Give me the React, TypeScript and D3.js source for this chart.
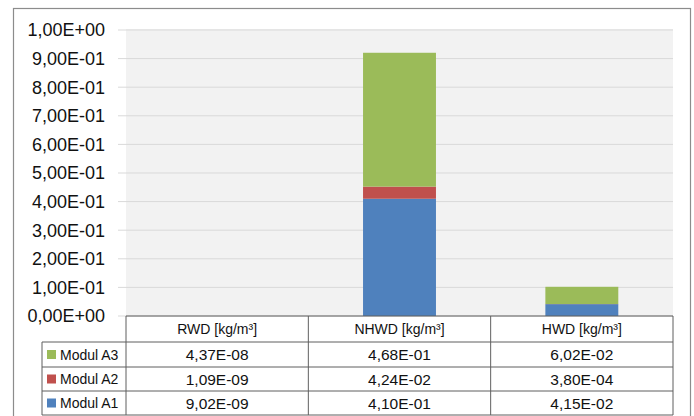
import React from "react";
import * as d3 from "d3";

const categories = ["RWD [kg/m³]", "NHWD [kg/m³]", "HWD [kg/m³]"];
const seriesNames = ["Modul A1", "Modul A2", "Modul A3"];
const modulA1 = [9.02e-9, 4.10e-1, 4.15e-2];
const modulA2 = [1.09e-9, 4.24e-2, 3.80e-4];
const modulA3 = [4.37e-8, 4.68e-1, 6.02e-2];
const yTicks = [0, 0.1, 0.2, 0.3, 0.4, 0.5, 0.6, 0.7, 0.8, 0.9, 1.0];
const colors = ["#4f81bd", "#c0504d", "#9bbb59"];

const fmt = (v: number) => {
  const [m, e] = v.toExponential(2).split("e");
  const n = parseInt(e, 10);
  const sign = n < 0 ? "-" : "+";
  const ab = Math.abs(n).toString().padStart(2, "0");
  return m.replace(".", ",") + "E" + sign + ab;
};

export default function App() {
  const W = 694, H = 416;
  const plotL = 126, plotR = 673, plotT = 30, plotB = 316;
  const legendL = 42;
  const rowLines = [316, 342, 367, 391, 415];

  const x = d3.scaleBand<string>().domain(categories).range([plotL, plotR]).paddingInner(0).paddingOuter(0);
  const y = d3.scaleLinear().domain([0, 1]).range([plotB, plotT]);
  const barW = x.bandwidth() * 0.4;

  const seriesData = [modulA1, modulA2, modulA3];
  const rows = categories.map((c, i) => {
    const o: any = { cat: c };
    seriesNames.forEach((s, j) => (o[s] = seriesData[j][i]));
    return o;
  });
  const stacked = d3.stack<any>().keys(seriesNames)(rows);

  const tableRows = [2, 1, 0]; // A3, A2, A1 order
  const font = "'Liberation Sans', Arial, sans-serif";

  return (
    <svg width={W} height={H} style={{ position: "absolute", left: 0, top: 0, background: "#fff" }} fontFamily={font}>
      <rect x={13.5} y={8.5} width={677} height={430} fill="#fff" stroke="#8c8c8c" strokeWidth={1.2} />
      <rect x={plotL} y={plotT - 1} width={plotR - plotL} height={plotB - plotT + 1} fill="#f2f2f2" />
      {yTicks.map((t) => (
        <g key={t}>
          <line x1={plotL - 8} x2={plotR} y1={y(t)} y2={y(t)} stroke="#d9d9d9" strokeWidth={1} />
          <text x={105} y={y(t)} dy="0.36em" textAnchor="end" fontSize={18} fill="#111">
            {fmt(t)}
          </text>
        </g>
      ))}
      {stacked.map((s, j) => (
        <g key={s.key} fill={colors[j]}>
          {s.map((d, i) => (
            <rect
              key={i}
              x={(x(categories[i]) as number) + (x.bandwidth() - barW) / 2}
              y={y(d[1])}
              width={barW}
              height={Math.max(0, y(d[0]) - y(d[1]))}
            />
          ))}
        </g>
      ))}
      {/* data table */}
      <g stroke="#5f5f5f" strokeWidth={1}>
        <line x1={plotL} x2={plotR} y1={rowLines[0]} y2={rowLines[0]} />
        {rowLines.slice(1).map((ry) => (
          <line key={ry} x1={legendL} x2={plotR} y1={ry} y2={ry} />
        ))}
        <line x1={legendL} x2={legendL} y1={rowLines[1]} y2={rowLines[4]} />
        {categories.map((c) => (
          <line key={c} x1={x(c) as number} x2={x(c) as number} y1={rowLines[0]} y2={rowLines[4]} />
        ))}
        <line x1={plotR} x2={plotR} y1={rowLines[0]} y2={rowLines[4]} />
      </g>
      {categories.map((c) => (
        <text key={c} x={(x(c) as number) + x.bandwidth() / 2} y={(rowLines[0] + rowLines[1]) / 2} dy="0.36em" textAnchor="middle" fontSize={14} fill="#111">
          {c}
        </text>
      ))}
      {tableRows.map((sIdx, r) => {
        const cy = (rowLines[r + 1] + rowLines[r + 2]) / 2;
        return (
          <g key={sIdx}>
            <rect x={47} y={cy - 4.5} width={9} height={9} fill={colors[sIdx]} />
            <text x={60} y={cy} dy="0.36em" fontSize={14} fill="#111">
              {seriesNames[sIdx]}
            </text>
            {categories.map((c, i) => (
              <text key={c} x={(x(c) as number) + x.bandwidth() / 2} y={cy} dy="0.36em" textAnchor="middle" fontSize={15.5} fill="#111">
                {fmt(seriesData[sIdx][i])}
              </text>
            ))}
          </g>
        );
      })}
    </svg>
  );
}
